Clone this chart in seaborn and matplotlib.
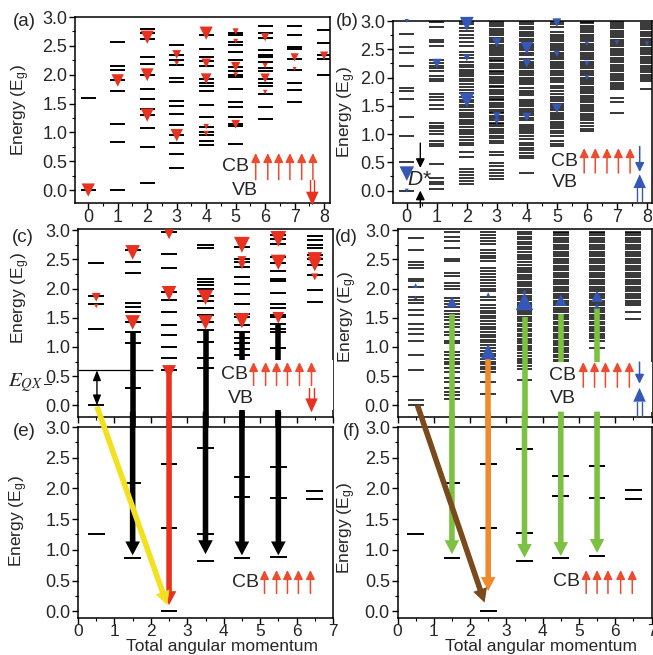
import numpy as np
import pandas as pd
import matplotlib
matplotlib.use("Agg")
import matplotlib.pyplot as plt
import seaborn as sns
from matplotlib.patches import Rectangle, ConnectionPatch
from matplotlib.ticker import MultipleLocator, FormatStrFormatter

sns.set_theme(style="ticks")
plt.rcParams['font.family'] = ['Liberation Sans', 'DejaVu Sans']
plt.rcParams['mathtext.fontset'] = 'stix'
plt.rcParams['axes.linewidth'] = 1.1

# ---------------- data ----------------
a_pos = [0, 1, 2, 3, 4, 5, 6, 7, 8]
a_levels = [
    [0.0, 1.6],
    [0.0, 0.84, 1.15, 1.72, 1.9, 2.08, 2.15, 2.56],
    [0.13, 0.74, 1.08, 1.30, 1.40, 1.58, 1.75, 1.99, 2.18, 2.31, 2.61, 2.72, 2.79],
    [0.39, 0.63, 0.81, 0.95, 1.13, 1.31, 1.45, 1.55, 1.88, 1.94, 2.16, 2.26, 2.34, 2.52],
    [0.78, 0.85, 0.95, 1.00, 1.10, 1.27, 1.48, 1.72, 1.81, 1.85, 1.92, 2.15, 2.23, 2.31, 2.45, 2.69],
    [0.80, 1.11, 1.15, 1.27, 1.44, 1.53, 1.76, 1.96, 2.0, 2.07, 2.13, 2.25, 2.39, 2.51, 2.57, 2.68, 2.73],
    [1.24, 1.44, 1.66, 1.80, 1.85, 1.92, 2.07, 2.12, 2.22, 2.30, 2.34, 2.42, 2.63, 2.73, 2.84],
    [1.53, 1.74, 1.85, 2.08, 2.28, 2.44, 2.48, 2.68, 2.84],
    [1.99, 2.28, 2.34, 2.55, 2.78],
]
a_tri_x = [0, 1, 2, 2, 2, 3, 3, 3, 4, 4, 4, 4, 4, 5, 5, 5, 5, 5, 6, 6, 6, 6, 7, 7, 8]
a_tri_y = [0.0, 1.9, 2.65, 2.0, 1.3, 2.35, 2.2, 0.95, 2.72, 2.2, 1.93, 1.1, 0.98, 2.75, 2.58, 2.14, 2.0, 1.14,
           2.65, 2.16, 1.94, 1.7, 2.3, 2.1, 2.33]
a_tri_s = [90, 80, 90, 85, 90, 40, 12, 80, 90, 45, 60, 15, 15, 20, 12, 45, 12, 40, 35, 15, 45, 10, 35, 8, 35]

b_pos = [0, 1, 2, 3, 4, 5, 6, 7, 8]
b_levels = [
    [0.0, 0.5, 0.97, 1.31, 1.62, 1.76, 1.82, 2.2, 2.43, 2.54, 2.77],
    [0.02, 0.11, 0.16, 0.22, 0.47, 0.78, 0.83, 0.87, 1.0, 1.05, 1.1, 1.15, 1.2, 1.45, 1.52, 1.61, 1.66, 1.70,
     1.93, 1.98, 2.02, 2.12, 2.16, 2.21, 2.26, 2.31, 2.56, 2.62, 2.66, 2.9, 2.99],
    [0.12, 0.17, 0.22, 0.28, 0.33, 0.38, 0.60, 0.69, 0.80, 0.84, 0.9, 0.95, 1.0, 1.04, 1.08, 1.12, 1.17, 1.21,
     1.25, 1.3, 1.34, 1.38, 1.43, 1.47, 1.51, 1.56, 1.6, 1.65, 1.72, 1.78, 1.84, 1.88, 1.93, 1.97, 2.02, 2.06,
     2.1, 2.14, 2.19, 2.23, 2.28, 2.34, 2.4, 2.46, 2.55, 2.62, 2.7, 2.76, 2.82, 2.88, 2.94, 2.99],
    [0.21, 0.25, 0.31, 0.37, 0.43, 0.49, 0.63, 0.69, 0.84, 0.88, 0.93, 0.97, 1.02, 1.05, 1.09, 1.14, 1.17,
     1.2, 1.25, 1.28, 1.32, 1.37, 1.39, 1.43, 1.48, 1.51, 1.55, 1.6, 1.62, 1.66, 1.71, 1.74, 1.78, 1.83,
     1.85, 1.9, 1.94, 1.97, 2.01, 2.06, 2.09, 2.12, 2.17, 2.2, 2.24, 2.29, 2.31, 2.35, 2.4, 2.43, 2.47, 2.51,
     2.54, 2.58, 2.62, 2.66, 2.7, 2.75, 2.78, 2.83, 2.86, 2.91, 2.95, 2.99],
    [0.31, 0.57, 0.62, 0.66, 0.71, 0.75, 0.80, 0.84, 0.92, 0.97, 1.01, 1.05, 1.09, 1.13, 1.16, 1.24, 1.28,
     1.33, 1.37, 1.41, 1.45, 1.49, 1.53, 1.57, 1.61, 1.69, 1.73, 1.77, 1.81, 1.88, 1.92, 1.96, 2.00, 2.04,
     2.08, 2.12, 2.16, 2.20, 2.24, 2.28, 2.32, 2.40, 2.44, 2.48, 2.52, 2.56, 2.60, 2.64, 2.69, 2.73, 2.77,
     2.81, 2.86, 2.90, 2.95, 2.99],
    [0.78, 0.82, 0.88, 0.97, 1.01, 1.05, 1.1, 1.14, 1.18, 1.22, 1.26, 1.3, 1.34, 1.38, 1.42, 1.46, 1.5, 1.54,
     1.58, 1.62, 1.66, 1.70, 1.77, 1.81, 1.85, 1.92, 1.96, 2.0, 2.04, 2.08, 2.12, 2.16, 2.2, 2.24, 2.28, 2.32,
     2.36, 2.4, 2.44, 2.48, 2.52, 2.56, 2.6, 2.64, 2.68, 2.72, 2.76, 2.8, 2.9, 2.94, 2.99],
    [1.05, 1.09, 1.14, 1.2, 1.24, 1.28, 1.32, 1.36, 1.4, 1.44, 1.48, 1.52, 1.56, 1.6, 1.64, 1.68, 1.72, 1.76,
     1.8, 1.84, 1.88, 1.92, 1.96, 2.0, 2.04, 2.08, 2.12, 2.16, 2.2, 2.24, 2.28, 2.32, 2.36, 2.4, 2.44, 2.48,
     2.52, 2.56, 2.6, 2.64, 2.68, 2.72, 2.76, 2.8, 2.84, 2.88, 2.92, 2.96, 2.99],
    [1.37, 1.56, 1.64, 1.79, 1.83, 1.87, 1.91, 1.95, 1.99, 2.03, 2.07, 2.11, 2.15, 2.19, 2.23, 2.27, 2.31,
     2.35, 2.39, 2.43, 2.47, 2.51, 2.55, 2.59, 2.63, 2.67, 2.71, 2.75, 2.79, 2.83, 2.87, 2.91, 2.95, 2.99],
    [1.8, 1.93, 1.97, 2.01, 2.05, 2.09, 2.13, 2.17, 2.21, 2.25, 2.29, 2.33, 2.37, 2.41, 2.45, 2.49, 2.53,
     2.57, 2.61, 2.65, 2.69, 2.73, 2.77, 2.81, 2.85, 2.89, 2.93, 2.97],
]
b_tri_x = [0, 0, 0, 1, 2, 2, 2, 3, 3, 3, 4, 4, 4, 5, 5, 5, 6, 6, 6, 7, 8]
b_tri_y = [0.3, 3.0, 0.0, 2.25, 2.95, 2.35, 1.6, 2.62, 1.32, 1.22, 2.52, 2.25, 1.3, 2.97, 2.42, 1.45,
           2.6, 2.25, 2.0, 2.62, 2.6]
b_tri_s = [110, 8, 8, 45, 100, 25, 110, 45, 30, 20, 80, 40, 40, 40, 20, 50, 12, 15, 12, 12, 10]

c_pos = [0.5, 1.5, 2.5, 3.5, 4.5, 5.5, 6.5]
c_levels = [
    [0.0, 1.31, 1.73, 1.87, 2.44],
    [0.29, 1.06, 1.25, 1.43, 1.6, 1.69, 1.75, 2.26, 2.46, 2.66],
    [0.6, 0.81, 1.0, 1.2, 1.37, 1.6, 1.8, 1.94, 2.35, 2.6, 2.97],
    [0.64, 0.81, 1.09, 1.29, 1.43, 1.54, 1.66, 1.78, 1.87, 1.99, 2.06, 2.11, 2.17, 2.69, 2.75],
    [0.86, 0.97, 1.07, 1.15, 1.26, 1.37, 1.51, 1.57, 1.74, 1.91, 2.07, 2.2, 2.37, 2.46, 2.51, 2.71],
    [0.98, 1.25, 1.31, 1.4, 1.51, 1.55, 1.66, 1.74, 1.93, 2.13, 2.17, 2.3, 2.43, 2.54, 2.77, 2.85, 2.91],
    [1.77, 1.97, 2.23, 2.4, 2.51, 2.57, 2.69, 2.74, 2.83, 2.9],
]
c_tri_x = [0.5, 0.5, 1.5, 1.5, 2.5, 2.5, 2.5, 3.5, 3.5, 4.5, 4.5, 4.5, 4.5, 5.5, 5.5, 5.5, 6.5, 6.5, 6.5]
c_tri_y = [1.85, 1.7, 2.62, 1.42, 2.93, 1.92, 0.57, 1.85, 1.42, 2.75, 2.48, 2.4, 1.45, 2.85, 2.45, 1.5,
           2.5, 2.42, 2.2]
c_tri_s = [40, 10, 110, 110, 50, 110, 100, 120, 110, 130, 40, 35, 120, 130, 120, 70, 110, 110, 25]

d_pos = [0.5, 1.5, 2.5, 3.5, 4.5, 5.5, 6.5]
d_levels = [
    [0.0, 0.09, 0.6, 0.87, 1.11, 1.23, 1.31, 1.4, 1.54, 1.64, 1.75, 1.8, 1.86, 2.03, 2.13, 2.17, 2.35, 2.4,
     2.45, 2.66, 2.87],
    [0.11, 0.17, 0.23, 0.3, 0.4, 0.46, 0.57, 0.64, 0.7, 0.75, 0.8, 0.87, 0.91, 1.07, 1.11, 1.2, 1.26, 1.34,
     1.4, 1.46, 1.51, 1.57, 1.61, 1.69, 1.74, 1.78, 1.83, 2.0, 2.04, 2.09, 2.22, 2.26, 2.47, 2.51, 2.69, 2.81,
     2.89, 2.97],
    [0.2, 0.4, 0.57, 0.62, 0.66, 0.71, 0.75, 0.8, 0.84, 0.88, 0.93, 0.98, 1.03, 1.08, 1.12, 1.17, 1.21, 1.26,
     1.31, 1.35, 1.4, 1.44, 1.49, 1.53, 1.58, 1.62, 1.67, 1.72, 1.81, 1.86, 1.95, 2.0, 2.04, 2.09, 2.14, 2.2,
     2.25, 2.3, 2.35, 2.47, 2.52, 2.56, 2.61, 2.66, 2.77, 2.82, 2.87, 2.92, 2.97],
    [0.43, 0.63, 0.67, 0.72, 0.76, 0.8, 0.85, 0.89, 0.94, 0.98, 1.02, 1.06, 1.1, 1.14, 1.19, 1.23, 1.27, 1.31,
     1.36, 1.4, 1.44, 1.48, 1.52, 1.56, 1.6, 1.64, 1.68, 1.72, 1.76, 1.8, 1.84, 1.88, 1.92, 1.96, 2.0, 2.04,
     2.08, 2.12, 2.16, 2.2, 2.24, 2.28, 2.32, 2.36, 2.41, 2.45, 2.5, 2.54, 2.58, 2.63, 2.67, 2.72, 2.76, 2.8,
     2.85, 2.89, 2.93, 2.97],
    [0.74, 0.78, 0.82, 0.87, 0.91, 0.95, 0.99, 1.03, 1.07, 1.11, 1.15, 1.19, 1.23, 1.27, 1.31, 1.35, 1.39,
     1.43, 1.47, 1.51, 1.55, 1.59, 1.63, 1.67, 1.71, 1.75, 1.79, 1.83, 1.87, 1.91, 1.95, 1.99, 2.03, 2.07,
     2.11, 2.15, 2.19, 2.23, 2.27, 2.31, 2.35, 2.39, 2.43, 2.47, 2.51, 2.55, 2.59, 2.63, 2.67, 2.71, 2.75,
     2.79, 2.83, 2.87, 2.91, 2.95, 2.97],
    [0.98, 1.11, 1.15, 1.19, 1.23, 1.27, 1.31, 1.35, 1.39, 1.43, 1.47, 1.51, 1.55, 1.59, 1.63, 1.67, 1.71,
     1.75, 1.79, 1.83, 1.87, 1.91, 1.95, 1.99, 2.03, 2.07, 2.11, 2.15, 2.19, 2.23, 2.27, 2.31, 2.35, 2.39,
     2.43, 2.47, 2.51, 2.55, 2.59, 2.63, 2.67, 2.71, 2.75, 2.79, 2.83, 2.87, 2.91, 2.95, 2.97],
    [1.47, 1.59, 1.71, 1.75, 1.79, 1.83, 1.87, 1.91, 1.95, 1.99, 2.03, 2.07, 2.11, 2.15, 2.19, 2.23, 2.27,
     2.31, 2.35, 2.39, 2.43, 2.47, 2.51, 2.55, 2.59, 2.63, 2.67, 2.71, 2.75, 2.79, 2.83, 2.87, 2.91, 2.95,
     2.97],
]
d_tri_x = [0.5, 0.5, 1.5, 2.5, 2.5, 3.5, 3.5, 4.5, 5.5, 5.5]
d_tri_y = [2.05, 1.85, 1.77, 1.9, 0.92, 1.78, 1.95, 1.8, 1.87, 1.7]
d_tri_s = [12, 6, 60, 8, 120, 160, 8, 70, 70, 15]

e_pos = [0.5, 1.5, 2.5, 3.5, 4.5, 5.5, 6.5]
e_levels = [[1.26], [0.87, 2.09], [0.0, 1.35, 2.4], [0.82, 1.26, 2.65], [0.87, 1.86, 2.18],
            [0.89, 1.85, 2.35], [1.83, 1.96]]
f_levels = [[1.26], [0.87, 2.09], [0.0, 1.35, 2.4], [0.82, 1.28, 2.64], [0.87, 1.87, 2.2],
            [0.9, 1.84, 2.36], [1.83, 1.97]]

# transitions (x, start energy in upper panel, tip energy in lower panel)
ce_x = [1.5, 2.5, 3.5, 4.5, 5.5]
ce_start = [1.25, 0.55, 1.29, 1.26, 1.4]
ce_tip = [0.91, 0.1, 0.93, 0.91, 0.91]
ce_col = ['black', '#e8321f', 'black', 'black', 'black']
df_x = [1.5, 2.5, 3.5, 4.5, 5.5]
df_start = [1.57, 0.8, 1.51, 1.57, 1.66]
df_tip = [0.93, 0.33, 0.87, 0.9, 0.95]
df_col = ['#7cc142', '#f08a2c', '#7cc142', '#7cc142', '#7cc142']

RED = '#e8321f'
LRED = '#ee4a2e'
BLUE = '#3557b7'

# ---------------- figure ----------------
fig = plt.figure(figsize=(6.53, 6.55), dpi=100)
W, H = 653.0, 655.0


def add_ax(left, top, right, bottom):
    return fig.add_axes([left / W, 1 - bottom / H, (right - left) / W, (bottom - top) / H])


axA = add_ax(75, 17, 330, 203)
axB = add_ax(393, 21, 652, 203)
axC = add_ax(78, 229, 333, 417)
axD = add_ax(397.5, 229, 651.5, 417)
axE = add_ax(78, 427, 333, 618)
axF = add_ax(397.5, 427, 651.5, 618)


def setup(ax, xlim, ylim, xlabels):
    ax.set_xlim(xlim)
    ax.set_ylim(ylim)
    ax.yaxis.set_major_locator(MultipleLocator(0.5))
    ax.yaxis.set_minor_locator(MultipleLocator(0.25))
    ax.yaxis.set_major_formatter(FormatStrFormatter('%.1f'))
    ax.xaxis.set_major_locator(MultipleLocator(1))
    ax.xaxis.set_minor_locator(MultipleLocator(0.5))
    ax.tick_params(which='major', direction='out', length=4, width=1, labelsize=13, pad=1.5, color='black')
    ax.tick_params(which='minor', direction='out', length=2.5, width=0.8, color='black')
    ax.tick_params(axis='x', labelbottom=xlabels, pad=0.5)
    for s in ax.spines.values():
        s.set_color('black')
    ax.set_ylabel('Energy (E$_\\mathregular{g}$)', fontsize=12.5)


def draw_levels(ax, pos, levels, half, lw=1.4):
    df = pd.DataFrame([(p, v) for p, lv in zip(pos, levels) for v in lv], columns=['J', 'E'])
    ax.hlines(df['E'], df['J'] - half, df['J'] + half, colors='black', lw=lw, zorder=2)


def draw_tri(ax, xs, ys, ss, marker, color):
    sns.scatterplot(x=xs, y=ys, s=ss, marker=marker, color=color, linewidth=0, ax=ax,
                    legend=False, zorder=3, clip_on=False)


def thin_arrow(ax, x, y0, y1, color, lw=1.1, ms=12):
    ax.annotate('', xy=(x, y1), xytext=(x, y0), annotation_clip=False, zorder=7,
                arrowprops=dict(arrowstyle='-|>,head_length=0.45,head_width=0.22', color=color,
                                lw=lw, mutation_scale=ms, shrinkA=0, shrinkB=0))


def double_arrow(ax, x, y0, ybase, ytip, color, dx):
    for s in (-dx, dx):
        ax.plot([x + s, x + s], [y0, ybase], color=color, lw=1.0, clip_on=False, zorder=7)
    ax.annotate('', xy=(x, ytip), xytext=(x, ybase), annotation_clip=False, zorder=7,
                arrowprops=dict(arrowstyle='simple,head_length=1.0,head_width=0.9,tail_width=0.01',
                                fc=color, ec='none', lw=0, mutation_scale=10, shrinkA=0, shrinkB=0))


def legend(ax, cb_xy, vb_xy, xs, y0, y1):
    ax.text(*cb_xy, 'CB', fontsize=14, ha='center', va='center', zorder=7)
    if vb_xy is not None:
        ax.text(*vb_xy, 'VB', fontsize=14, ha='center', va='center', zorder=7)
    for x in xs:
        thin_arrow(ax, x, y0, y1, LRED)


# (a)
setup(axA, (-0.45, 8.2), (-0.225, 3.0), True)
draw_levels(axA, a_pos, a_levels, 0.255)
draw_tri(axA, a_tri_x, a_tri_y, a_tri_s, 'v', RED)
legend(axA, (5.0, 0.40), (5.3, 0.0), [5.68, 6.09, 6.46, 6.84, 7.24, 7.62], 0.18, 0.64)
double_arrow(axA, 7.6, 0.17, -0.04, -0.27, RED, 0.07)

# (b)
setup(axB, (-0.46, 8.17), (-0.22, 3.0), True)
draw_levels(axB, b_pos, b_levels, 0.245, lw=1.1)
draw_tri(axB, b_tri_x, b_tri_y, b_tri_s, 'v', BLUE)
legend(axB, (5.27, 0.52), (5.27, 0.15), [5.91, 6.28, 6.67, 7.05, 7.44], 0.31, 0.75)
thin_arrow(axB, 7.76, 0.78, 0.33, BLUE)
double_arrow(axB, 7.76, -0.19, 0.04, 0.29, BLUE, 0.08)
thin_arrow(axB, 0.45, 0.84, 0.4, 'black', lw=1.0)
thin_arrow(axB, 0.45, -0.3, 0.0, 'black', lw=1.0)
axB.text(0.42, 0.19, 'D*', fontsize=15, fontstyle='italic', ha='center', va='center', zorder=7)

# (c)
setup(axC, (0, 7), (-0.2, 3.02), False)
draw_levels(axC, c_pos, c_levels, 0.22)
draw_tri(axC, c_tri_x, c_tri_y, c_tri_s, 'v', RED)
axC.add_patch(Rectangle((3.95, -0.08), 3.05, 0.86, fc='white', ec='none', zorder=5))
legend(axC, (4.3, 0.53), (4.46, 0.12), [4.82, 5.15, 5.45, 5.75, 6.08, 6.41], 0.34, 0.74)
double_arrow(axC, 6.41, 0.29, 0.07, -0.12, RED, 0.07)
axC.hlines(0.6, 0, 2.05, colors='black', lw=0.9, zorder=2)
axC.annotate('', xy=(0.52, 0.0), xytext=(0.52, 0.6), zorder=7,
             arrowprops=dict(arrowstyle='<|-|>,head_length=0.5,head_width=0.2', color='black',
                             lw=1.0, mutation_scale=12, shrinkA=0, shrinkB=0))

# (d)
setup(axD, (0, 7), (-0.2, 3.02), False)
draw_levels(axD, d_pos, d_levels, 0.22, lw=1.1)
axD.add_patch(Rectangle((4.0, -0.12), 3.0, 0.87, fc='white', ec='none', zorder=5))
legend(axD, (4.55, 0.51), (4.55, 0.11), [5.12, 5.43, 5.73, 6.06, 6.39], 0.31, 0.74)
thin_arrow(axD, 6.67, 0.74, 0.37, BLUE)
double_arrow(axD, 6.67, -0.19, 0.06, 0.3, BLUE, 0.08)

# (e), (f)
setup(axE, (0, 7), (-0.11, 3.0), True)
setup(axF, (0, 7), (-0.11, 3.0), True)
draw_levels(axE, e_pos, e_levels, 0.23)
draw_levels(axF, e_pos, f_levels, 0.23)
legend(axE, (4.6, 0.46), None, [5.12, 5.45, 5.75, 6.05, 6.38], 0.29, 0.67)
legend(axF, (4.65, 0.48), None, [5.2, 5.5, 5.8, 6.15, 6.47], 0.29, 0.67)
for ax in (axE, axF):
    ax.tick_params(axis='x', labelsize=12.5, pad=0)
    ax.set_xlabel('Total angular momentum', fontsize=12.5)
    ax.xaxis.set_label_coords(0.565, -0.148)
    ax.xaxis.label.set_va('center')


def vert_arrow(ax_top, ax_bot, x, y_start, y_tip, color):
    ax_top.plot([x, x], [y_start, -0.5], color=color, lw=4.0, solid_capstyle='butt',
                clip_on=False, zorder=3)
    ax_bot.annotate('', xy=(x, y_tip), xytext=(x, 3.25), annotation_clip=False, zorder=3,
                    arrowprops=dict(arrowstyle='simple,head_length=1.0,head_width=1.05,tail_width=0.4',
                                    fc=color, ec='none', lw=0, mutation_scale=10, shrinkA=0, shrinkB=0))


for x, s, t, c in zip(ce_x, ce_start, ce_tip, ce_col):
    vert_arrow(axC, axE, x, s, t, c)
for x, s, t, c in zip(df_x, df_start, df_tip, df_col):
    vert_arrow(axD, axF, x, s, t, c)

# triangles in (d) on top of the green shafts
draw_tri(axD, d_tri_x, d_tri_y, d_tri_s, '^', BLUE)

for axT, axBt, p0, p1, col in ((axC, axE, (0.52, -0.02), (2.45, 0.1), '#f3e11e'),
                               (axD, axF, (0.55, 0.0), (2.4, 0.14), '#7b4a1c')):
    con = ConnectionPatch(xyA=p0, coordsA=axT.transData, xyB=p1, coordsB=axBt.transData,
                          arrowstyle='simple,head_length=1.0,head_width=1.05,tail_width=0.4',
                          fc=col, ec='none', lw=0, mutation_scale=10)
    fig.add_artist(con)

# y-label positions
axA.yaxis.set_label_coords(-0.17, 0.5)
axB.yaxis.set_label_coords(-0.135, 0.5)
axC.yaxis.set_label_coords(-0.18, 0.63)
axD.yaxis.set_label_coords(-0.153, 0.53)
axE.yaxis.set_label_coords(-0.188, 0.51)
axF.yaxis.set_label_coords(-0.157, 0.47)

fig.text(8 / W, 1 - 383 / H, r'$E_{QX-}$', fontsize=15, ha='left', va='center')

for lbl, x, y in (('(a)', 13, 22), ('(b)', 336, 21), ('(c)', 12, 237), ('(d)', 335, 237),
                  ('(e)', 13, 432), ('(f)', 343, 432)):
    fig.text(x / W, 1 - y / H, lbl, fontsize=13.5, ha='left', va='center')

fig.savefig('out.png', dpi=100)
